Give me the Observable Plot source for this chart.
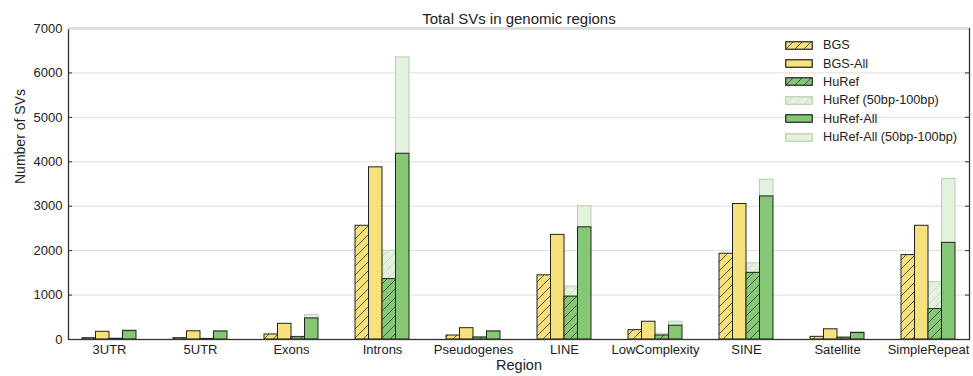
<!DOCTYPE html>
<html><head><meta charset="utf-8">
<script src="https://cdn.jsdelivr.net/npm/d3@7"></script>
<script src="https://cdn.jsdelivr.net/npm/@observablehq/plot@0.6"></script>
<style>
body{margin:0;background:#fff;font-family:"Liberation Sans",Arial,sans-serif;}
#wrap{position:relative;width:973px;height:376px;}
#legend{position:absolute;left:785px;top:36px;font-size:12.7px;color:#222;}
.row{display:flex;align-items:center;height:18.4px;}
.row svg{margin-right:10px;display:block;}
</style></head><body>
<svg width="0" height="0" style="position:absolute"><defs>
<pattern id="hY" patternUnits="userSpaceOnUse" width="9" height="9"><rect width="9" height="9" fill="#f6e17c"/><path d="M-1,1 L1,-1 M0,9 L9,0 M8,10 L10,8" stroke="#333" stroke-width="0.8"/></pattern>
<pattern id="hG" patternUnits="userSpaceOnUse" width="9" height="9"><rect width="9" height="9" fill="#86c776"/><path d="M-1,1 L1,-1 M0,9 L9,0 M8,10 L10,8" stroke="#333" stroke-width="0.8"/></pattern>
<pattern id="hL" patternUnits="userSpaceOnUse" width="9" height="9"><rect width="9" height="9" fill="#e2f2dc"/><path d="M-1,1 L1,-1 M0,9 L9,0 M8,10 L10,8" stroke="#c4d6c0" stroke-width="0.8"/></pattern>
</defs></svg>
<div id="wrap"><div id="legend"></div></div>
<script>
const regions = ["3UTR","5UTR","Exons","Introns","Pseudogenes","LINE","LowComplexity","SINE","Satellite","SimpleRepeat"];
const bgs = [30, 30, 113, 2560, 90, 1445, 210, 1930, 60, 1900];
const bgsAll = [173, 185, 353, 3875, 255, 2355, 400, 3050, 230, 2560];
const huref = [15, 12, 53, 1360, 45, 965, 90, 1500, 40, 685];
const hurefShort = [5, 5, 10, 640, 10, 225, 40, 215, 10, 605];
const hurefAll = [188, 180, 474, 4180, 180, 2525, 310, 3220, 145, 2175];
const hurefAllShort = [22, 8, 75, 2170, 15, 475, 90, 375, 20, 1440];
const yTicks = [0, 1000, 2000, 3000, 4000, 5000, 6000, 7000];
const legendLabels = ["BGS","BGS-All","HuRef","HuRef (50bp-100bp)","HuRef-All","HuRef-All (50bp-100bp)"];

const C = {yellow:"#f6e17c", green:"#86c776", light:"#e2f2dc", lightStroke:"#b9cdb5", dark:"#222"};
const BW = 13.5; // bar width in px (quarter of band)
const slot = k => ({insetLeft: k*BW, insetRight: (3-k)*BW});

const rows = (vals, base) => regions.map((r,i)=>({region:r, y1: base ? base[i] : 0, y2: (base ? base[i] : 0) + vals[i]}));

const marks = [
  Plot.ruleY(yTicks, {stroke:"#dddddd", strokeWidth:1}),
  Plot.barY(rows(hurefShort, huref), {x:"region", y1:"y1", y2:"y2", fill:"url(#hL)", stroke:C.lightStroke, strokeWidth:1, ...slot(2)}),
  Plot.barY(rows(hurefAllShort, hurefAll), {x:"region", y1:"y1", y2:"y2", fill:C.light, stroke:C.lightStroke, strokeWidth:1, ...slot(3)}),
  Plot.barY(rows(bgs), {x:"region", y1:"y1", y2:"y2", fill:"url(#hY)", stroke:C.dark, strokeWidth:1, ...slot(0)}),
  Plot.barY(rows(bgsAll), {x:"region", y1:"y1", y2:"y2", fill:C.yellow, stroke:C.dark, strokeWidth:1, ...slot(1)}),
  Plot.barY(rows(huref), {x:"region", y1:"y1", y2:"y2", fill:"url(#hG)", stroke:C.dark, strokeWidth:1, ...slot(2)}),
  Plot.barY(rows(hurefAll), {x:"region", y1:"y1", y2:"y2", fill:C.green, stroke:C.dark, strokeWidth:1, ...slot(3)}),
  Plot.frame({stroke:"#333", strokeWidth:1.3}),
  Plot.ruleY([7000], {stroke:"#dddddd", strokeWidth:2}),
  Plot.ruleY(yTicks.slice(1,-1), {stroke:"#333", insetRight:897}),
  Plot.ruleY(yTicks.slice(1,-1), {stroke:"#333", insetLeft:897}),
  Plot.axisX({tickSize:0, tickPadding:5, label:null, fontSize:13, fill:"#222"}),
  Plot.axisY({ticks:yTicks, tickSize:0, tickPadding:6, label:null, fontSize:13, fill:"#222", tickFormat:d=>String(d)}),
  Plot.text(["Total SVs in genomic regions"], {text:d=>d, frameAnchor:"top", dy:-15, fontSize:15, fill:"#222"}),
  Plot.text(["Region"], {text:d=>d, frameAnchor:"bottom", dy:30, fontSize:14.5, fill:"#222"}),
  Plot.text(["Number of SVs"], {text:d=>d, frameAnchor:"left", dx:-48, rotate:-90, fontSize:14, fill:"#222"})
];

const chart = Plot.plot({
  width:973, height:376,
  marginTop:28, marginBottom:37, marginLeft:68, marginRight:4,
  style:{fontFamily:'"Liberation Sans", Arial, sans-serif', fontSize:"13px", color:"#333", background:"#fff"},
  x:{type:"band", domain:regions, paddingInner:0.41, paddingOuter:0.126, axis:null},
  y:{domain:[0,7000], axis:null},
  marks
});
document.getElementById("wrap").prepend(chart);

const swatches = [
  {fill:"url(#hY)", stroke:C.dark},
  {fill:C.yellow, stroke:C.dark},
  {fill:"url(#hG)", stroke:C.dark},
  {fill:"url(#hL)", stroke:C.lightStroke},
  {fill:C.green, stroke:C.dark},
  {fill:C.light, stroke:C.lightStroke}
];
const leg = document.getElementById("legend");
legendLabels.forEach((lab,i)=>{
  const row = document.createElement("div");
  row.className = "row";
  row.innerHTML = `<svg width="28" height="9"><rect x="0.75" y="0.75" width="26.5" height="7.5" fill="${swatches[i].fill}" stroke="${swatches[i].stroke}" stroke-width="1.2"/></svg><span>${lab}</span>`;
  leg.appendChild(row);
});
</script>
</body></html>
